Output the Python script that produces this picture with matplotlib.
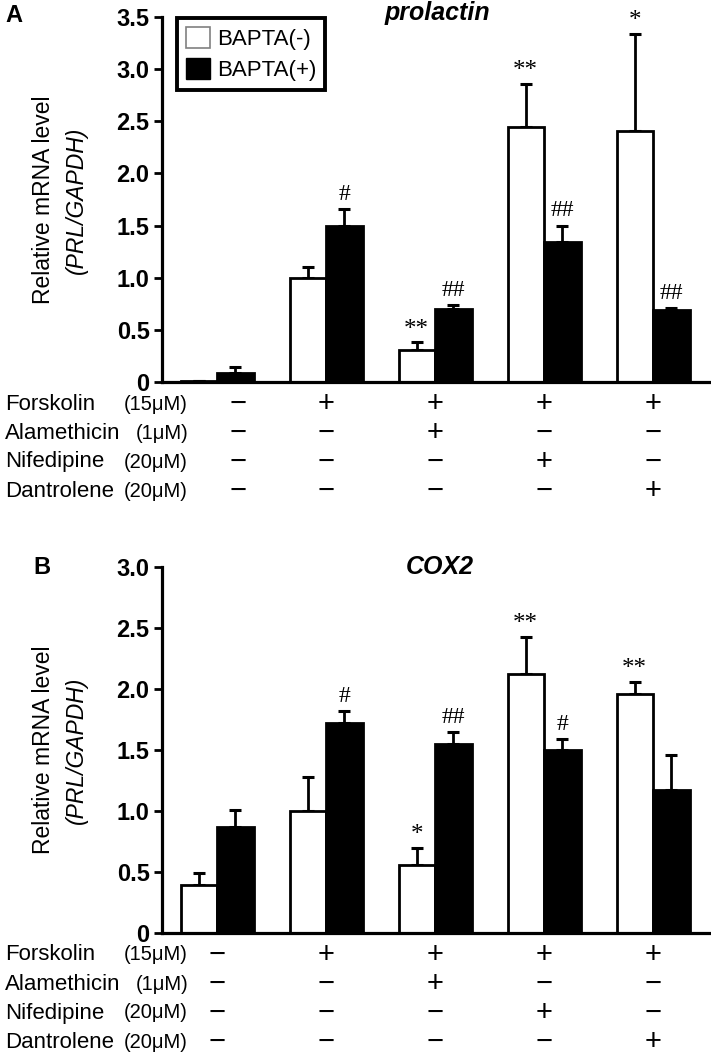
import numpy as np
import matplotlib
matplotlib.use('Agg')
import matplotlib.pyplot as plt
from matplotlib.patches import Patch
from matplotlib.transforms import blended_transform_factory

plt.rcParams['font.family'] = ['Liberation Sans', 'DejaVu Sans']

# data
groups = np.arange(5)

prl_white = [0.01, 1.00, 0.31, 2.45, 2.41]
prl_white_err = [0.0, 0.10, 0.07, 0.41, 0.93]
prl_black = [0.09, 1.50, 0.70, 1.34, 0.69]
prl_black_err = [0.055, 0.16, 0.04, 0.16, 0.02]
prl_white_marks = ['', '', '**', '**', '*']
prl_black_marks = ['', '#', '##', '##', '##']

cox_white = [0.39, 1.00, 0.56, 2.12, 1.96]
cox_white_err = [0.10, 0.28, 0.14, 0.31, 0.10]
cox_black = [0.87, 1.72, 1.55, 1.50, 1.17]
cox_black_err = [0.14, 0.10, 0.10, 0.09, 0.29]
cox_white_marks = ['', '', '*', '**', '**']
cox_black_marks = ['', '#', '##', '#', '']

drugs = ['Forskolin', 'Alamethicin', 'Nifedipine', 'Dantrolene']
doses = ['(15μM)', '(1μM)', '(20μM)', '(20μM)']
signs = [[0, 1, 1, 1, 1],
         [0, 0, 1, 0, 0],
         [0, 0, 0, 1, 0],
         [0, 0, 0, 0, 1]]

W, H = 711, 1060
fig = plt.figure(figsize=(W / 100, H / 100), dpi=100)

width = 0.335


def draw_panel(ax, white, white_err, black, black_err, wmarks, bmarks, ymax, first_shift):
    xw = groups - width / 2
    xb = groups + width / 2
    ax.errorbar(xw, white, yerr=[np.zeros(5), white_err], fmt='none', ecolor='black',
                elinewidth=2, capsize=4.5, capthick=2.2, zorder=1)
    ax.errorbar(xb, black, yerr=[np.zeros(5), black_err], fmt='none', ecolor='black',
                elinewidth=2, capsize=4.5, capthick=2.2, zorder=1)
    ax.bar(xw, white, width, color='white', edgecolor='black', linewidth=2, zorder=2)
    ax.bar(xb, black, width, color='black', edgecolor='black', linewidth=2, zorder=2)

    # significance marks
    for x, v, e, m in zip(xw, white, white_err, wmarks):
        if m:
            ax.annotate(m, (x, v + e), xytext=(0, 1), textcoords='offset points',
                        ha='center', va='bottom', fontsize=18, family='Liberation Serif')
    for x, v, e, m in zip(xb, black, black_err, bmarks):
        if m:
            ax.annotate(m, (x, v + e), xytext=(0, 3), textcoords='offset points',
                        ha='center', va='bottom', fontsize=17, family='Liberation Serif')

    ax.set_xlim(-0.505, 4.532)
    ax.set_ylim(0, ymax)
    ticks = np.arange(0, ymax + 0.01, 0.5)
    ax.set_yticks(ticks)
    ax.set_yticklabels(['0' if t == 0 else f'{t:.1f}' for t in ticks],
                       fontsize=17, fontweight='bold')
    ax.set_xticks([])
    for s in ['top', 'right']:
        ax.spines[s].set_visible(False)
    for s in ['left', 'bottom']:
        ax.spines[s].set_linewidth(2.3)
    ax.tick_params(axis='y', direction='out', length=6, width=2, pad=3)

    # treatment table below the axis
    tr = blended_transform_factory(ax.transData, fig.transFigure)
    bottom_px = (1 - ax.get_position().y0) * H
    for r, (drug, dose) in enumerate(zip(drugs, doses)):
        ypx = bottom_px + 22 + 29 * r
        yf = 1 - ypx / H
        fig.text(5 / W, yf, drug, fontsize=16, va='center', ha='left')
        fig.text(188 / W, yf, dose, fontsize=14.5, va='center', ha='right')
        for g in groups:
            x = g + (first_shift if g == 0 else 0)
            ax.text(x, yf, '+' if signs[r][g] else '−', transform=tr,
                    fontsize=21, ha='center', va='center')


ax_a = fig.add_axes([162 / W, 1 - 382 / H, 549 / W, 365 / H])
draw_panel(ax_a, prl_white, prl_white_err, prl_black, prl_black_err,
           prl_white_marks, prl_black_marks, 3.5, 0.19)
ax_b = fig.add_axes([162 / W, 1 - 933 / H, 549 / W, 366 / H])
draw_panel(ax_b, cox_white, cox_white_err, cox_black, cox_black_err,
           cox_white_marks, cox_black_marks, 3.0, 0.0)

# legend
handles = [Patch(facecolor='white', edgecolor='gray', linewidth=1.2, label='BAPTA(-)'),
           Patch(facecolor='black', edgecolor='black', label='BAPTA(+)')]
leg = ax_a.legend(handles=handles, loc='upper left', bbox_to_anchor=(0.027, 0.997),
                  borderaxespad=0, fancybox=False, framealpha=1, fontsize=16,
                  handlelength=1.1, handleheight=1.1, handletextpad=0.3,
                  borderpad=0.4, labelspacing=0.35)
leg.get_frame().set_edgecolor('black')
leg.get_frame().set_linewidth(2.8)

# titles, panel letters, y labels
fig.text(437 / W, 1 - 13 / H, 'prolactin', fontsize=18, fontweight='bold',
         style='italic', ha='center', va='center')
fig.text(440 / W, 1 - 567 / H, 'COX2', fontsize=18, fontweight='bold',
         style='italic', ha='center', va='center')
fig.text(5 / W, 1 - 15 / H, 'A', fontsize=17, fontweight='bold', va='center')
fig.text(33 / W, 1 - 567 / H, 'B', fontsize=17, fontweight='bold', va='center')

for yc in [200, 750]:
    fig.text(44 / W, 1 - yc / H, 'Relative mRNA level', fontsize=16.5,
             rotation=90, ha='center', va='center')
    fig.text(76 / W, 1 - yc / H, '(PRL/GAPDH)', fontsize=16.5, style='italic',
             rotation=90, ha='center', va='center')

fig.savefig('out.png', dpi=100)
